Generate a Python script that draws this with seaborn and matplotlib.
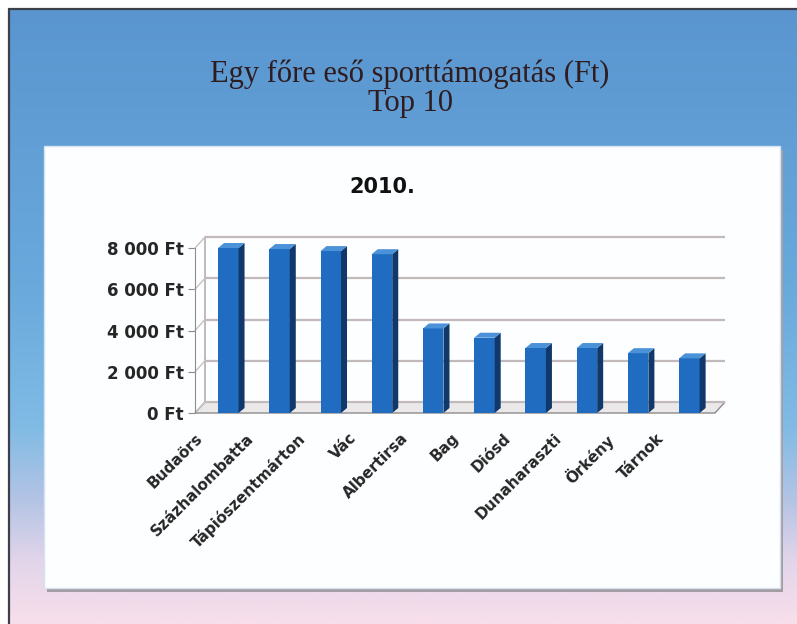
import numpy as np
import pandas as pd
import matplotlib
matplotlib.use("Agg")
import matplotlib.pyplot as plt
import seaborn as sns
from matplotlib.colors import LinearSegmentedColormap
from matplotlib.patches import Rectangle, Polygon
from matplotlib.lines import Line2D
from matplotlib.ticker import FuncFormatter
from matplotlib.transforms import ScaledTranslation

# adatok
telepulesek = ["Budaörs", "Százhalombatta", "Tápiószentmárton", "Vác", "Albertirsa",
               "Bag", "Diósd", "Dunaharaszti", "Örkény", "Tárnok"]
tamogatas = [8000, 7950, 7850, 7700, 4100, 3650, 3150, 3150, 2900, 2650]
y_ticks = [0, 2000, 4000, 6000, 8000]

W, H = 797, 624
sns.set_style("white")
plt.rcParams["font.family"] = ["DejaVu Sans"]

fig = plt.figure(figsize=(W / 100, H / 100), dpi=100, facecolor="white")


def fx(px):
    return px / W


def fy(py):
    return 1 - py / H


# dia háttér (színátmenet)
bg = fig.add_axes([fx(9), 0, 1 - fx(9), fy(9)])
bg.set_zorder(-3)
cmap = LinearSegmentedColormap.from_list(
    "dia", [(0, "#5a95cf"), (0.45, "#69a9dc"), (0.68, "#80bbe5"),
            (0.80, "#b4c4e4"), (0.90, "#e2d5ea"), (1, "#f8dfea")])
bg.imshow(np.linspace(0, 1, 256).reshape(-1, 1), aspect="auto", cmap=cmap)
bg.axis("off")

fig.add_artist(Line2D([fx(8.5), fx(8.5)], [0, fy(8.5)], color="#3d3f4a", lw=1.6, zorder=-1))
fig.add_artist(Line2D([fx(8.5), 1], [fy(8.5), fy(8.5)], color="#3d3f4a", lw=1.6, zorder=-1))

# fehér diagram doboz + árnyék
fig.add_artist(Rectangle((fx(47), fy(592)), fx(780 - 44), (588 - 146) / H,
                         facecolor="#a39ea4", edgecolor="none", zorder=-2))
fig.add_artist(Rectangle((fx(44), fy(588)), fx(780 - 44), (588 - 146) / H,
                         facecolor="#fdfeff", edgecolor="#d6e2ee", lw=1, zorder=-1.5))

# címek
fig.text(fx(410), fy(74), "Egy főre eső sporttámogatás (Ft)", ha="center", va="center",
         family="Liberation Serif", fontsize=22, color="#2e1c20")
fig.text(fx(410), fy(104), "Top 10", ha="center", va="center",
         family="Liberation Serif", fontsize=22, color="#2e1c20")
fig.text(fx(382), fy(187), "2010.", ha="center", va="center",
         fontsize=15, fontweight="bold", color="#111111")

# oszlopdiagram
ax = fig.add_axes([fx(195), fy(413), fx(520), 165 / H])
ax.patch.set_alpha(0)
df = pd.DataFrame({"telepules": telepulesek, "tamogatas": tamogatas})
sns.barplot(data=df, x="telepules", y="tamogatas", color="#1f6cc0", saturation=1,
            width=0.4, ax=ax, zorder=3, edgecolor="none", linewidth=0)
bars = list(ax.patches)
x0, x1 = -0.65, 9.5
ax.set_xlim(x0, x1)
ax.set_ylim(0, 8000)

ppx = 520 / (x1 - x0)
ppy = 165 / 8000
DX, DY = 10 / ppx, 11 / ppy      # hátfal eltolás
bdx, bdy = 6 / ppx, 5 / ppy      # oszlop mélység

# padló
ax.add_patch(Polygon([(x0, 0), (x1, 0), (x1 + DX, DY), (x0 + DX, DY)], closed=True,
                     facecolor="#ebe8ea", edgecolor="#8f8a8c", lw=1, clip_on=False, zorder=1))
# hátfal rácsvonalak
ax.plot([x0 + DX, x0 + DX], [DY, 8000 + DY], color="#b5aeae", lw=1.2, clip_on=False, zorder=1)
for t in y_ticks:
    ax.plot([x0 + DX, x1 + DX], [t + DY, t + DY], color="#c2baba", lw=1.6,
            clip_on=False, zorder=1, solid_capstyle="butt")
    ax.plot([x0, x0 + DX], [t, t + DY], color="#c8c2c2", lw=1, clip_on=False, zorder=1)

# 3D oszlop oldal és tető
for p in bars:
    x, w, h = p.get_x(), p.get_width(), p.get_height()
    ax.add_patch(Polygon([(x + w, 0), (x + w + bdx, bdy), (x + w + bdx, h + bdy), (x + w, h)],
                         closed=True, facecolor="#10386a", edgecolor="none", zorder=3, clip_on=False))
    ax.add_patch(Polygon([(x, h), (x + bdx, h + bdy), (x + w + bdx, h + bdy), (x + w, h)],
                         closed=True, facecolor="#4c92d8", edgecolor="none", zorder=3, clip_on=False))

for s in ["top", "right", "bottom"]:
    ax.spines[s].set_visible(False)
ax.spines["left"].set_color("#8c8c8c")
ax.spines["left"].set_position(("data", x0))

ax.set_yticks(y_ticks)
ax.yaxis.set_major_formatter(FuncFormatter(lambda v, _: f"{int(v):,}".replace(",", " ") + " Ft"))
ax.tick_params(axis="y", left=True, length=5, color="#8c8c8c", pad=3, labelsize=12)
ax.tick_params(axis="x", bottom=False, pad=9)
ax.set_xlabel("")
ax.set_ylabel("")
for lab in ax.get_yticklabels():
    lab.set_fontweight("bold")
for lab in ax.get_xticklabels():
    lab.set_rotation(45)
    lab.set_ha("right")
    lab.set_rotation_mode("anchor")
    lab.set_fontweight("bold")
    lab.set_fontsize(11)
    lab.set_transform(lab.get_transform() + ScaledTranslation(-0.33, 0, fig.dpi_scale_trans))

fig.savefig("out.png", dpi=100)
